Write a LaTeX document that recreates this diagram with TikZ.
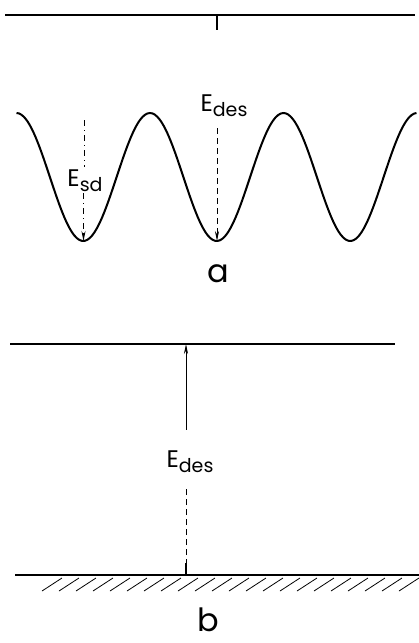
\documentclass[tikz,border=0pt]{standalone}
\usepackage{fontspec}
\usetikzlibrary{arrows.meta}
\newfontfamily\lblfont{Poppins}
\newcommand{\esub}[1]{E\raisebox{-5pt}{\fontsize{19}{20}\selectfont #1}}
\begin{document}
\begin{tikzpicture}[x=1pt, y=-1pt, >={Stealth[length=10pt,width=4pt]},
    every node/.style={font=\lblfont\fontsize{24}{26}\selectfont, inner sep=1pt},
    level/.style={line width=1.3pt},
    well/.style={line width=2pt, smooth},
    gap/.style={line width=0.8pt, dash pattern=on 6pt off 4pt},
    dashdot/.style={line width=0.8pt, dash pattern=on 6pt off 4pt on 1pt off 4pt},
    tail/.style={line width=2pt},
    hatch/.style={line width=0.8pt},
    panel/.style={font=\lblfont\fontsize{32}{34}\selectfont}]
\useasboundingbox (0,0) rectangle (419,643);

% ================= a: corrugated surface potential =================
\draw[level] (5,15) -- (415,15);
\draw[well, domain=16.5:416.5, samples=160] plot (\x, {177-64*cos(2.6966*(\x-16.5))});
\coordinate (vacA) at (217,15);
\coordinate (sdTop) at (84,120);
\coordinate (minL) at (83.5,241);
\coordinate (minM) at (217,241);

% E_sd between neighbouring wells
\node (Esd) at (85,181) {\esub{sd}};
\draw[dashdot, shorten >=2pt] (sdTop) -- (Esd.north -| sdTop);
\draw[dashdot, ->] (Esd.south -| minL) -- (minL);

% E_des from vacuum level down to the well
\node (EdesA) at (224,106) {\esub{des}};
\draw[tail] (vacA) -- ++(0,15);
\draw[gap, ->, shorten <=10pt] (EdesA.south -| minM) -- (minM);

\node[panel] (labA) at (218,274) {a};

% ================= b: flat surface =================
\draw[level] (10,344) -- (395,344);
\draw[level] (15,575) -- (419,575);
\foreach \h in {62,79,...,419}
    \draw[hatch] (\h,578) -- ++(-20,13);
\coordinate (vacB) at (186,344);
\coordinate (surfB) at (186,575);

\node (EdesB) at (190,462) {\esub{des}};
\draw[line width=0.8pt, ->, shorten <=20pt] (EdesB.north -| vacB) -- (vacB);
\draw[tail] (surfB) -- ++(0,-12);
\draw[gap, shorten >=14pt] (surfB) -- (EdesB.south -| surfB);

\node[panel] (labB) at (208,620) {b};
\end{tikzpicture}
\end{document}
